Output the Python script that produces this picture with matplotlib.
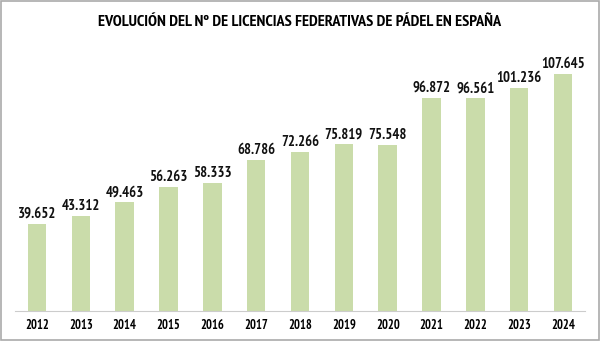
import matplotlib.pyplot as plt
from matplotlib.patches import Rectangle

years = ["2012", "2013", "2014", "2015", "2016", "2017", "2018",
         "2019", "2020", "2021", "2022", "2023", "2024"]
licencias = [39652, 43312, 49463, 56263, 58333, 68786, 72266,
             75819, 75548, 96872, 96561, 101236, 107645]

FONT = ["PT Sans Narrow", "DejaVu Sans"]


def fmt(v):
    return f"{v:,}".replace(",", ".")


fig = plt.figure(figsize=(6, 3.41), dpi=100)
ax = fig.add_axes([0.025, 0.088, 0.95, 0.765])

x = range(len(years))
bars = ax.bar(x, licencias, width=0.42, color="#cadcaa")

for b, v in zip(bars, licencias):
    ax.text(b.get_x() + b.get_width() / 2, v + 1200, fmt(v),
            ha="center", va="bottom", fontsize=10.5, fontweight="bold",
            family=FONT, color="#111111")

ax.set_xlim(-0.5, len(years) - 0.5)
ax.set_ylim(0, 118500)
ax.set_xticks(list(x))
ax.set_xticklabels(years, fontsize=9, fontweight="bold", family=FONT)
ax.tick_params(axis="x", length=0, pad=6)
ax.set_yticks([])
for s in ["top", "right", "left"]:
    ax.spines[s].set_visible(False)
ax.spines["bottom"].set_color("#cccccc")
ax.spines["bottom"].set_linewidth(0.8)

fig.text(0.5, 0.935, "EVOLUCIÓN DEL Nº DE LICENCIAS FEDERATIVAS DE PÁDEL EN ESPAÑA",
         ha="center", va="center", fontsize=11.7, fontweight="bold", family=FONT)

fig.patches.append(Rectangle((0.002, 0.003), 0.996, 0.994, transform=fig.transFigure,
                             fill=False, edgecolor="#aaaaaa", linewidth=1.2))

fig.savefig("out.png", dpi=100)
